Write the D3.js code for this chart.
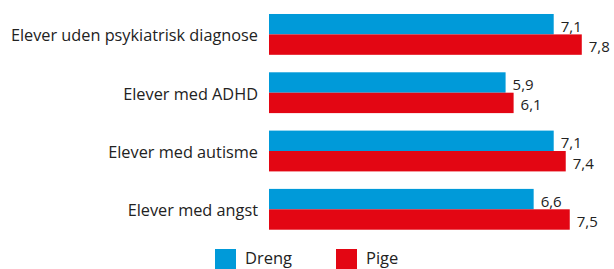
<!DOCTYPE html>
<html>
<head>
<meta charset="utf-8">
<script src="https://cdn.jsdelivr.net/npm/d3@7"></script>
<style>
  body { margin: 0; background: #fff; }
  text { font-family: "Open Sans", sans-serif; fill: #222; }
</style>
</head>
<body>
<div id="chart"></div>
<script>
var categories = ["Elever uden psykiatrisk diagnose", "Elever med ADHD", "Elever med autisme", "Elever med angst"];
var series = ["Dreng", "Pige"];
var drengValues = [7.1, 5.9, 7.1, 6.6];
var pigeValues = [7.8, 6.1, 7.4, 7.5];
var colors = ["#009ad9", "#e30613"];

var width = 614, height = 269;

const svg = d3.select("#chart")
    .append("svg")
    .attr("width", width)
    .attr("height", height);

// x: 0 sits where the bars start
var x = d3.scaleLinear().domain([0, 8]).range([269, 269 + 8 * 40.1]);
// one band per category
var y = d3.scaleBand().domain(categories).range([0, 243.7]).paddingInner(0.3).paddingOuter(0.24);
var ySub = d3.scaleBand().domain(series).range([0, y.bandwidth()]);

var rows = categories.map(function (c, i) {
    return {cat: c, vals: [drengValues[i], pigeValues[i]]};
});

const group = svg.selectAll("g.row")
    .data(rows)
    .join("g")
    .attr("class", "row")
    .attr("transform", d => "translate(0," + y(d.cat) + ")");

group.selectAll("rect")
    .data(d => d.vals.map((v, j) => ({s: series[j], v: v, j: j})))
    .join("rect")
    .attr("x", x(0))
    .attr("y", d => ySub(d.s))
    .attr("width", d => x(d.v) - x(0))
    .attr("height", ySub.bandwidth())
    .attr("fill", d => colors[d.j]);

group.selectAll("text.val")
    .data(d => d.vals.map((v, j) => ({s: series[j], v: v})))
    .join("text")
    .attr("class", "val")
    .attr("x", d => x(d.v) + 7)
    .attr("y", d => ySub(d.s) + ySub.bandwidth() / 2 + 1.5)
    .attr("dominant-baseline", "central")
    .style("font-size", "15px")
    .text(d => d3.format(".1f")(d.v).replace(".", ","));

group.append("text")
    .attr("x", 258)
    .attr("y", y.bandwidth() / 2 + 1)
    .attr("text-anchor", "end")
    .attr("dominant-baseline", "central")
    .style("font-size", "16.3px")
    .text(d => d.cat);

// legend
var legendX = [215, 336];
const legend = svg.selectAll("g.legend")
    .data(series)
    .join("g")
    .attr("class", "legend")
    .attr("transform", (d, i) => "translate(" + legendX[i] + ",249)");

legend.append("rect")
    .attr("width", 21)
    .attr("height", 21)
    .attr("fill", (d, i) => colors[i]);

legend.append("text")
    .attr("x", 30)
    .attr("y", 8.5)
    .attr("dominant-baseline", "central")
    .style("font-size", "16.5px")
    .text(d => d);
</script>
</body>
</html>
